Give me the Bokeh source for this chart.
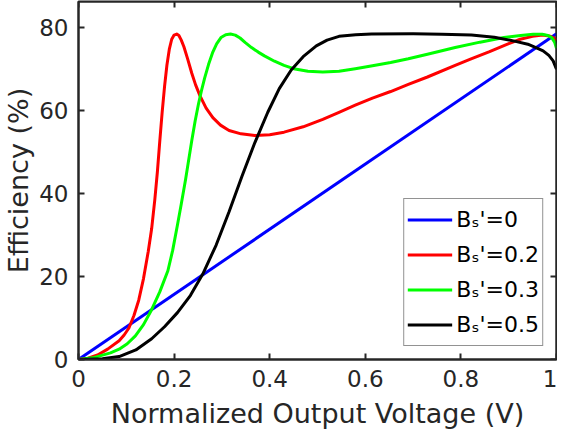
from bokeh.plotting import figure
from bokeh.models import (LinearAxis, FixedTicker, Range1d, Legend, LegendItem,
                          CustomJSTickFormatter)
from bokeh.embed import file_html
from bokeh.resources import INLINE

# ---- data ----
x_blue = [0.0, 1.0]
y_blue = [0.0, 78.5]

x_red = [0, 0.02, 0.04, 0.061, 0.085, 0.0955, 0.1055, 0.116, 0.126, 0.136, 0.146, 0.153, 0.1596,
         0.165, 0.17, 0.175, 0.18, 0.185, 0.19, 0.195, 0.2, 0.2055, 0.21, 0.215, 0.2205, 0.228,
         0.237, 0.245, 0.254, 0.267, 0.281, 0.297, 0.315, 0.34, 0.369, 0.4, 0.43, 0.47, 0.511,
         0.545, 0.579, 0.615, 0.653, 0.69, 0.73, 0.788, 0.82, 0.86, 0.895, 0.924, 0.95, 0.971,
         0.985, 0.995, 1.0]
y_red = [0, 0.3, 1.1, 2.5, 4.5, 5.9, 7.6, 10.6, 14.3, 19.5, 26.1, 31.5, 38.5,
         45.2, 52.6, 59.6, 65.8, 71.0, 74.8, 77.2, 78.2, 78.45, 78.1, 77.0, 75.4, 72.6,
         69.0, 66.2, 63.6, 60.6, 58.3, 56.5, 55.2, 54.4, 54.0, 54.2, 54.8, 56.1, 57.9,
         59.6, 61.3, 63.0, 64.6, 66.3, 68.1, 70.9, 72.4, 74.2, 75.9, 77.2, 77.9, 78.2,
         78.0, 77.5, 77.0]

x_green = [0, 0.03, 0.067, 0.085, 0.102, 0.119, 0.136, 0.153, 0.17, 0.187, 0.197, 0.207, 0.215,
           0.224, 0.237, 0.244, 0.251, 0.257, 0.264, 0.272, 0.281, 0.289, 0.298, 0.308, 0.318,
           0.328, 0.338, 0.349, 0.362, 0.376, 0.389, 0.41, 0.43, 0.45, 0.48, 0.511, 0.545,
           0.579, 0.615, 0.653, 0.69, 0.73, 0.788, 0.84, 0.89, 0.925, 0.951, 0.97, 0.982,
           0.99, 0.996, 1.0]
y_green = [0, 0.4, 1.6, 2.5, 3.8, 5.7, 8.4, 12.0, 16.3, 21.4, 26.3, 32.4, 37.5,
           43.4, 52.8, 57.5, 61.6, 64.7, 67.9, 71.1, 74.1, 76.1, 77.6, 78.3, 78.45,
           78.2, 77.5, 76.4, 75.2, 74.1, 73.2, 71.9, 70.9, 70.1, 69.5, 69.3, 69.5,
           70.1, 70.8, 71.6, 72.5, 73.6, 75.2, 76.5, 77.6, 78.1, 78.4, 78.4, 78.1,
           77.6, 76.5, 75.0]

x_black = [0, 0.05, 0.085, 0.12, 0.153, 0.18, 0.207, 0.234, 0.26, 0.288, 0.315, 0.342, 0.369,
           0.396, 0.42, 0.445, 0.47, 0.4975, 0.52, 0.545, 0.58, 0.613, 0.7, 0.76, 0.822, 0.87,
           0.91, 0.94, 0.957, 0.972, 0.984, 0.993, 1.0]
y_black = [0, 0.2, 0.7, 2.3, 5.0, 7.9, 11.3, 15.4, 20.6, 27.6, 35.6, 44.2, 52.3,
           59.6, 65.3, 69.8, 73.0, 75.6, 77.0, 77.9, 78.3, 78.45, 78.5, 78.4, 78.2, 77.7,
           76.8, 76.0, 75.2, 74.4, 73.3, 72.0, 70.0]

x_ticks = [0, 0.2, 0.4, 0.6, 0.8, 1]
x_tick_labels = ["0", "0.2", "0.4", "0.6", "0.8", "1"]
y_ticks = [0, 20, 40, 60, 80]
x_label = "Normalized Output Voltage (V)"
y_label = "Efficiency (%)"
legend_labels = ["B\u209b'=0", "B\u209b'=0.2", "B\u209b'=0.3", "B\u209b'=0.5"]

X_END = 1.0
Y_END = 86.3

AX = "#262626"
FONT = "DejaVu Sans"

p = figure(width=557, height=431, output_backend="svg", toolbar_location=None,
           x_range=Range1d(0, X_END), y_range=Range1d(0, Y_END),
           min_border_left=70, min_border_right=1, min_border_top=1, min_border_bottom=60,
           background_fill_color="white", border_fill_color="white")
p.grid.visible = False
p.outline_line_color = AX
p.outline_line_width = 2

def style_axis(ax, labels=True):
    ax.axis_line_color = AX
    ax.axis_line_width = 2
    ax.major_tick_line_color = AX
    ax.major_tick_line_width = 2
    ax.major_tick_in = 6
    ax.major_tick_out = 0
    ax.minor_tick_line_color = None
    ax.major_label_text_font = FONT
    ax.major_label_text_color = AX
    ax.axis_label_text_font = FONT
    ax.axis_label_text_color = AX
    ax.axis_label_text_font_style = "normal"
    if labels:
        ax.major_label_text_font_size = "23px"
        ax.axis_label_text_font_size = "27px"
    else:
        ax.formatter = CustomJSTickFormatter(code="return ''")
        ax.major_label_text_font_size = "1px"
        ax.major_label_standoff = 0
        # mirrored axis drawn at the far edge: ticks point back into the frame
        ax.major_tick_in = 0
        ax.major_tick_out = 6

xa = p.xaxis[0]
ya = p.yaxis[0]
xa.ticker = FixedTicker(ticks=x_ticks)
ya.ticker = FixedTicker(ticks=y_ticks)
xa.major_label_overrides = {float(t): s for t, s in zip(x_ticks, x_tick_labels)}
xa.axis_label = x_label
ya.axis_label = y_label
style_axis(xa)
style_axis(ya)
xa.major_label_standoff = 10
ya.major_label_standoff = 10
xa.major_label_text_line_height = 1.0
xa.axis_label_text_line_height = 1.0
xa.axis_label_standoff = 8
ya.axis_label_standoff = 2

# mirrored tick axes (box on): placed in the near panels but drawn at the far edges
top = LinearAxis(ticker=FixedTicker(ticks=x_ticks), fixed_location=Y_END)
right = LinearAxis(ticker=FixedTicker(ticks=y_ticks), fixed_location=X_END)
style_axis(top, labels=False)
style_axis(right, labels=False)
p.add_layout(top, "below")
p.add_layout(right, "left")

r1 = p.line(x_blue, y_blue, line_color="#0000FF", line_width=3, line_join="round")
r2 = p.line(x_red, y_red, line_color="#FF0000", line_width=3, line_join="round")
r3 = p.line(x_green, y_green, line_color="#00FF00", line_width=3, line_join="round")
r4 = p.line(x_black, y_black, line_color="#000000", line_width=3, line_join="round")

legend = Legend(items=[LegendItem(label=l, renderers=[r]) for l, r in
                       zip(legend_labels, [r1, r2, r3, r4])],
                location="bottom_right", margin=13, padding=3, spacing=0,
                glyph_width=45, glyph_height=35, label_height=35, label_standoff=4,
                label_text_font=FONT, label_text_font_size="22px", label_text_color="black",
                border_line_color=AX, border_line_width=1.5,
                background_fill_color="white", background_fill_alpha=1.0)
p.add_layout(legend)

open("out.html", "w").write(file_html(p, INLINE))
